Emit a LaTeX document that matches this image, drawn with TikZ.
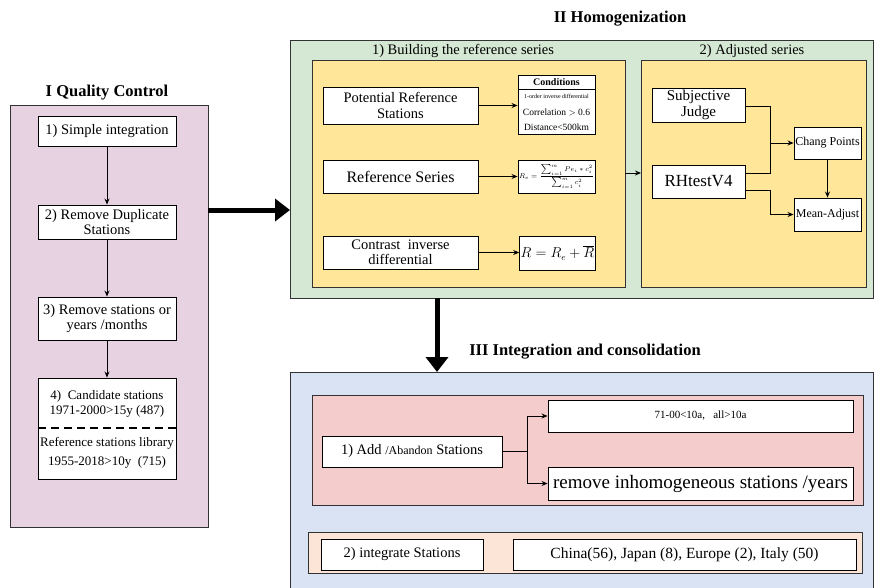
\documentclass[tikz,border=0pt]{standalone}
\usepackage{fontspec}
\setmainfont{Liberation Serif}
\usetikzlibrary{arrows.meta,calc}

\definecolor{qcpink}{RGB}{230,210,225}
\definecolor{homgreen}{RGB}{213,232,212}
\definecolor{stepyellow}{RGB}{255,230,153}
\definecolor{intblue}{RGB}{218,227,243}
\definecolor{addred}{RGB}{244,204,204}
\definecolor{mergepeach}{RGB}{252,228,214}
\definecolor{frame}{RGB}{50,50,50}

\tikzset{
  panel/.style={draw=frame, line width=0.9pt, inner sep=0pt},
  box/.style={draw=black, fill=white, line width=0.9pt, align=center,
    inner sep=1pt, font=\fontsize{14.5}{15.5}\selectfont},
  link/.style={line width=0.9pt, -{Stealth[length=6pt,width=5pt]}},
  wire/.style={line width=0.9pt},
  bigarrow/.style={line width=5pt, -{Triangle[length=15pt,width=22pt]}},
  heading/.style={font=\fontsize{16.5}{18}\selectfont\bfseries},
  subhead/.style={font=\fontsize{14.5}{16}\selectfont},
}

\begin{document}
\begin{tikzpicture}[x=1pt,y=-1pt]
\clip (0,0) rectangle (875,587);
\useasboundingbox (0,0) rectangle (875,587);

% ---------- I Quality Control ----------
\node[heading] (qctitle) at (107,93) {I Quality Control};
\node[panel, fill=qcpink, minimum width=198pt, minimum height=422pt] (qc) at (109,316) {};
\node[box, minimum width=138pt, minimum height=30pt] (q1) at (107,131) {1) Simple integration};
\node[box, minimum width=138pt, minimum height=34pt] (q2) at (107,222) {2) Remove Duplicate\\Stations};
\node[box, minimum width=138pt, minimum height=43pt] (q3) at (107,318.5) {3) Remove stations or\\years /months};
\node[box, minimum width=138pt, minimum height=101pt] (q4) at (107,428.5) {};
\node[font=\fontsize{13}{15}\selectfont, align=center] (q4a) at (107,404) {4)\ \ Candidate stations\\1971-2000>15y (487)};
\node[font=\fontsize{13}{15}\selectfont] (q4b) at (107,443) {Reference stations library};
\node[font=\fontsize{13}{15}\selectfont] (q4c) at (107,462) {1955-2018>10y\ \ (715)};
\coordinate (dashl) at (38,428);
\coordinate (dashr) at (176,428);
\draw[line width=2.2pt, dash pattern=on 8pt off 5pt] (dashl) -- (dashr);
\draw[link] (q1) -- (q2);
\draw[link] (q2) -- (q3);
\draw[link] (q3) -- (q4);

% ---------- II Homogenization ----------
\node[heading] (homtitle) at (620,19) {II Homogenization};
\node[panel, fill=homgreen, minimum width=583pt, minimum height=258pt] (hom) at (581.5,169) {};
\node[subhead] (buildlbl) at (463,51) {1) Building the reference series};
\node[subhead] (adjlbl) at (752,51) {2) Adjusted series};
\node[panel, fill=stepyellow, minimum width=313pt, minimum height=227pt] (build) at (468.5,173.5) {};
\node[panel, fill=stepyellow, minimum width=225pt, minimum height=227pt] (adj) at (753.5,173.5) {};

\node[box, minimum width=155pt, minimum height=37pt] (prs) at (400.5,105.5) {Potential Reference\\Stations};
\node[box, minimum width=155pt, minimum height=33pt, font=\fontsize{16}{17}\selectfont] (rs) at (400.5,176.5) {Reference Series};
\node[box, minimum width=155pt, minimum height=33pt] (cid) at (400.5,252.5) {Contrast\ \ inverse\\differential};

\node[box, minimum width=77pt, minimum height=59pt] (cond) at (556.5,104.5) {};
\coordinate (condsepl) at (518,89);
\coordinate (condsepr) at (595,89);
\draw[wire] (condsepl) -- (condsepr);
\node[font=\fontsize{10}{11}\selectfont\bfseries] (condhead) at (556.5,82) {Conditions};
\node[font=\fontsize{6}{7}\selectfont] (condl1) at (556.5,96) {1-order inverse differential};
\node[font=\fontsize{9.5}{10}\selectfont] (condl2) at (556.5,112) {Correlation $>$ 0.6};
\node[font=\fontsize{9.5}{10}\selectfont] (condl3) at (556.5,127) {Distance<500km};

\node[box, minimum width=77pt, minimum height=33pt, inner sep=0pt, font=\fontsize{7.5}{8}\selectfont] (re) at (556.5,176.5)
  {$\displaystyle R_e=\frac{\sum\nolimits_{i=1}^{m} Pe_i * c_i^2}{\sum\nolimits_{i=1}^{m} c_i^2}$};
\node[box, minimum width=75pt, minimum height=34pt, font=\fontsize{13.5}{14}\selectfont] (rr) at (557.5,253)
  {$R=R_e+\overline{R}$};

\draw[link] (prs.east) -- (cond.west |- prs.east);
\draw[link] (rs.east) -- (re.west);
\draw[link] (cid.east) -- (rr.west |- cid.east);

\node[box, minimum width=93pt, minimum height=34pt, font=\fontsize{15}{16}\selectfont] (sj) at (698.5,105) {Subjective\\Judge};
\node[box, minimum width=93pt, minimum height=33pt, font=\fontsize{17}{18}\selectfont] (rh) at (698.5,181.5) {RHtestV4};
\node[box, minimum width=67pt, minimum height=32pt, font=\fontsize{12}{13}\selectfont] (cp) at (827.5,143) {Chang Points};
\node[box, minimum width=67pt, minimum height=33pt, font=\fontsize{12}{13}\selectfont] (ma) at (827.5,214.5) {Mean-Adjust};

\coordinate (jx) at (770,143);
\coordinate (sjout) at (745,106);
\coordinate (rhout1) at (745,173);
\coordinate (rhout2) at (745,190);
\coordinate (mabend) at (770,214.5);
\draw[wire] (sjout) -| (jx);
\draw[wire] (rhout1) -| (jx);
\draw[link] (jx) -- (cp.west);
\draw[link] (rhout2) -| (mabend) -- (ma.west);
\draw[link] (cp.south) -- (ma.north);

\coordinate (buildout) at (625,173);
\coordinate (adjin) at (641,173);
\draw[link] (buildout) -- (adjin);

% ---------- III Integration and consolidation ----------
\node[heading] (inttitle) at (585,352) {III Integration and consolidation};
\node[panel, fill=intblue, minimum width=583pt, minimum height=230pt] (intg) at (581.5,487) {};
\node[panel, fill=addred, minimum width=551pt, minimum height=110pt] (addp) at (587.5,450) {};
\node[box, minimum width=180pt, minimum height=31pt, font=\fontsize{14.5}{15}\selectfont] (add) at (412,451.5)
  {1) Add {\fontsize{12}{13}\selectfont /Abandon} Stations};
\node[box, minimum width=305pt, minimum height=32pt, font=\fontsize{11}{12}\selectfont] (rule) at (700.5,416)
  {71-00<10a,\ \ \ all>10a};
\node[box, minimum width=305pt, minimum height=33pt, font=\fontsize{19}{20}\selectfont] (rmv) at (700.5,483.5)
  {remove inhomogeneous stations /years};
\coordinate (split) at (527,451.5);
\draw[wire] (add.east) -- (split);
\draw[link] (split) |- (rule.west);
\draw[link] (split) |- (rmv.west);

\node[panel, fill=mergepeach, minimum width=554pt, minimum height=41pt] (mergep) at (585,552.5) {};
\node[box, minimum width=162pt, minimum height=31pt] (merge) at (402,554.5) {2) integrate Stations};
\node[box, minimum width=343pt, minimum height=31pt, font=\fontsize{15.5}{16}\selectfont] (count) at (684.5,554.5)
  {China(56), Japan (8), Europe (2), Italy (50)};

% ---------- stage transitions ----------
\coordinate (qcout) at (208,210);
\coordinate (homin) at (290,210);
\coordinate (homout) at (437,298);
\coordinate (intin) at (437,372);
\draw[bigarrow] (qcout) -- (homin);
\draw[bigarrow] (homout) -- (intin);
\end{tikzpicture}
\end{document}
